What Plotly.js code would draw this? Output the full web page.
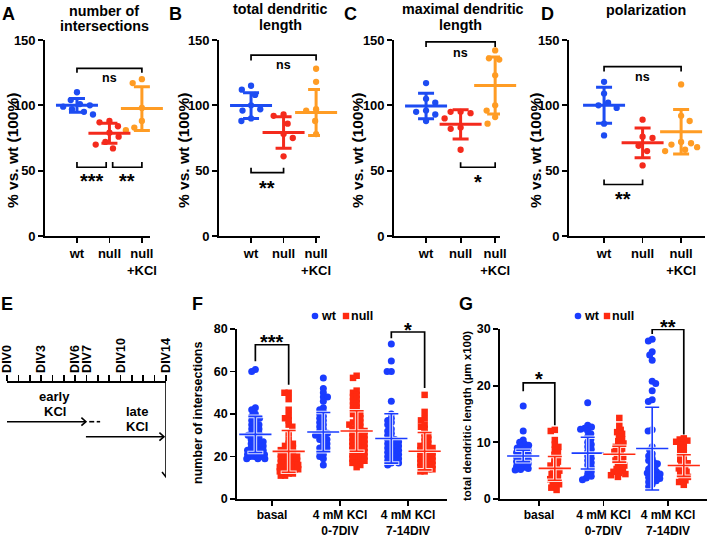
<!DOCTYPE html>
<html><head><meta charset="utf-8">
<script src="https://cdn.plot.ly/plotly-3.0.1.min.js"></script>
<style>html,body{margin:0;padding:0;background:#fff}</style>
</head><body><div id="chart" style="width:709px;height:538px"></div>
<script>
// ================= DATA =================
const topCategories = ['wt', 'null', 'null<br>+KCl'];
const bottomCategories = ['basal', '4 mM KCl<br>0-7DIV', '4 mM KCl<br>7-14DIV'];

// A: number of intersections (% vs. wt)
const intersWt   = [110, 104, 101, 100, 99, 97, 95, 93];
const intersNull = [88, 87, 84, 79, 76, 72, 70, 67];
const intersKcl  = [120, 117, 98, 88, 84, 83, 81];
const intersMean = [100, 78.6, 97.5];
const intersSd   = [5.3, 7.6, 16.8];

// B: total dendritic length (% vs. wt)
const lengthWt   = [115, 112, 108, 100, 97, 96, 90, 88];
const lengthNull = [93, 92, 86, 78, 75, 61];
const lengthKcl  = [128, 118, 97, 96, 92, 88, 84, 78, 71];
const lengthMean = [99.8, 79.2, 94.6];
const lengthSd   = [9.8, 12, 17.6];

// C: maximal dendritic length (% vs. wt)
const maxWt   = [117, 105, 102, 96, 95, 93, 88];
const maxNull = [95, 95, 94, 90, 83, 82, 66];
const maxKcl  = [142, 136, 135, 123, 100, 96, 91, 86];
const maxMean = [99.5, 85.5, 115.2];
const maxSd   = [9.7, 11.2, 21.8];

// D: polarization (% vs. wt)
const polWt   = [118, 109, 102, 100, 98, 86, 77];
const polNull = [89, 76, 75, 69, 65, 54];
const polKcl  = [116, 92, 88, 72, 71, 70, 68, 66, 65];
const polMean = [100, 71.3, 79.8];
const polSd   = [13.8, 11.4, 17];

// E: timeline
const divDays   = [0, 3, 6, 7, 10, 14];
const divLabels = ['DIV0', 'DIV3', 'DIV6', 'DIV7', 'DIV10', 'DIV14'];

// F: number of intersections
const fBasalWt   = [61, 60, 43, 42, 40, 39, 38, 38, 37, 36, 35, 35, 34, 33, 33, 32, 31, 31, 30, 30, 29, 28, 28, 27, 27, 26, 26, 25, 25, 24, 24, 23, 23, 23, 22, 22, 22, 21, 21, 21, 20, 20, 20, 19, 19, 19];
const fBasalNull = [50, 50, 47, 42, 39, 38, 37, 35, 34, 31, 28, 26, 26, 25, 24, 24, 23, 23, 22, 22, 21, 21, 20, 20, 20, 19, 19, 18, 18, 18, 17, 17, 17, 16, 16, 16, 15, 15, 15, 14, 14, 14, 13, 13, 12, 12, 11, 11];
const f07Wt      = [57, 52, 50, 48, 48, 46, 43, 42, 41, 40, 39, 38, 37, 36, 35, 34, 33, 32, 31, 31, 30, 30, 29, 28, 28, 27, 26, 25, 24, 24, 23, 22, 21, 20, 19, 16];
const f07Null    = [58, 57, 51, 50, 49, 48, 47, 46, 45, 44, 43, 42, 41, 40, 40, 39, 38, 37, 36, 36, 35, 35, 34, 33, 33, 32, 32, 31, 31, 30, 30, 29, 29, 28, 28, 27, 27, 26, 26, 25, 25, 24, 24, 23, 23, 22, 22, 21, 21, 20, 20, 19, 19, 18, 18, 17, 17, 16, 15];
const f714Wt     = [73, 65, 60, 60, 46, 40, 38, 37, 36, 35, 33, 32, 31, 30, 29, 28, 28, 27, 27, 26, 26, 25, 25, 24, 24, 23, 23, 22, 22, 21, 21, 20, 20, 19, 19, 18, 18, 17, 17, 16];
const f714Null   = [49, 41, 38, 37, 35, 34, 33, 31, 30, 29, 28, 27, 26, 25, 25, 24, 24, 23, 23, 22, 22, 21, 21, 20, 20, 19, 19, 18, 18, 17, 17, 16, 16, 15, 15, 14, 14, 13, 13];
const fMeanWt   = [30.4, 31.5, 28.5];
const fSdWt     = [8.5, 9.2, 11.6];
const fMeanNull = [22.4, 32, 22.5];
const fSdNull   = [9.8, 9.5, 8.8];

// G: total dendritic length (µm x100)
const gBasalWt   = [16.4, 12.0, 10.4, 10.0, 9.7, 9.5, 9.3, 9.0, 8.8, 8.6, 8.4, 8.2, 8.0, 7.8, 7.6, 7.4, 7.2, 7.0, 6.8, 6.6, 6.4, 6.2, 6.0, 5.8, 5.6, 5.4, 5.2, 5.1];
const gBasalNull = [12.2, 12.0, 10.4, 9.6, 9.2, 8.7, 8.2, 7.8, 7.4, 7.0, 6.6, 6.2, 5.9, 5.6, 5.3, 5.0, 4.7, 4.4, 4.1, 3.8, 3.5, 3.2, 2.9, 2.6, 2.3, 2.0, 1.6];
const g07Wt      = [17.0, 13.0, 12.7, 12.5, 12.3, 12.0, 11.5, 11.0, 10.5, 10.0, 9.6, 9.2, 8.8, 8.4, 8.0, 7.6, 7.2, 6.8, 6.4, 6.0, 5.6, 5.2, 4.8, 4.4, 4.0, 3.7, 3.4];
const g07Null    = [14.3, 12.9, 12.2, 11.8, 11.5, 11.0, 10.5, 10.2, 9.8, 9.5, 9.2, 8.9, 8.6, 8.3, 8.0, 7.7, 7.4, 7.1, 6.8, 6.5, 6.2, 5.9, 5.6, 5.3, 5.0, 4.8, 4.6, 4.4, 4.2, 3.9];
const g714Wt     = [28.2, 27.9, 26.0, 25.4, 24.5, 20.8, 20.4, 19.1, 17.5, 17.2, 12.2, 12.0, 9.2, 8.6, 8.0, 7.6, 7.2, 6.8, 6.5, 6.2, 5.9, 5.6, 5.3, 5.0, 4.8, 4.6, 4.4, 4.2, 4.0, 3.8, 3.6, 3.4, 3.2, 3.0, 2.6, 2.2];
const g714Null   = [10.7, 10.5, 10.3, 10.1, 9.9, 9.5, 9.0, 8.6, 8.2, 7.8, 7.4, 7.0, 6.6, 6.3, 6.0, 5.7, 5.4, 5.1, 4.8, 4.5, 4.2, 3.9, 3.6, 3.3, 3.0, 2.5];
const gMeanWt   = [7.6, 8.1, 8.9];
const gSdWt     = [1.0, 2.8, 7.3];
const gMeanNull = [5.4, 7.9, 5.9];
const gSdNull   = [2.1, 1.4, 1.9];

// ================= LAYOUT HELPERS =================
const W = 709, H = 538;
const fx = p => p / W;
const fy = p => 1 - p / H;
const FONT = 'Liberation Sans, Arial, Helvetica, sans-serif';
const BLUE = '#1d4cf2', RED = '#f42a1c', ORANGE = '#ff9c24';
const BBLUE = '#1a3cff', BRED = '#ff2a10';

const boxes = {
  1: {x0: 45,  x1: 150, y0: 40,  y1: 236, xr: [0.015, 3.25],  yr: [0, 150]},
  2: {x0: 219, x1: 320, y0: 40,  y1: 236, xr: [0.015, 3.12],  yr: [0, 150]},
  3: {x0: 394, x1: 500, y0: 40,  y1: 236, xr: [0.072, 3.14],  yr: [0, 150]},
  4: {x0: 569, x1: 705, y0: 40,  y1: 236, xr: [0.09, 3.62],   yr: [0, 150]},
  6: {x0: 237, x1: 447, y0: 329, y1: 499, xr: [0.485, 3.574], yr: [0, 80]},
  7: {x0: 500, x1: 707, y0: 329, y1: 499, xr: [0.395, 3.605], yr: [0, 30]}
};
const xid = n => n === 1 ? 'x' : 'x' + n;
const yid = n => n === 1 ? 'y' : 'y' + n;
const yScale = n => (boxes[n].y1 - boxes[n].y0) / (boxes[n].yr[1] - boxes[n].yr[0]);

const layout = {
  width: W, height: H, margin: {l: 0, r: 0, t: 0, b: 0},
  paper_bgcolor: '#fff', plot_bgcolor: 'rgba(0,0,0,0)',
  showlegend: false, shapes: [], annotations: [], font: {family: FONT, color: '#000'}
};

function axisBase(fs) {
  return {
    showline: true, linecolor: '#000', linewidth: 1.8,
    ticks: 'outside', ticklen: 5, tickwidth: 1.8, tickcolor: '#000',
    showgrid: false, zeroline: false, fixedrange: true, ticklabeloverflow: 'allow',
    tickfont: {family: FONT, size: fs, color: '#000', weight: 'bold'}
  };
}
function addAxes(n, xopts, yopts, fs) {
  const b = boxes[n];
  layout[n === 1 ? 'xaxis' : 'xaxis' + n] = Object.assign(axisBase(fs),
    {domain: [fx(b.x0), fx(b.x1)], range: b.xr, anchor: yid(n)}, xopts);
  layout[n === 1 ? 'yaxis' : 'yaxis' + n] = Object.assign(axisBase(fs),
    {domain: [fy(b.y1), fy(b.y0)], range: b.yr, anchor: xid(n)}, yopts);
}

// deterministic beeswarm (pixel space) -> x offsets in data units
function swarmOffsets(vals, n, diam, maxHalf) {
  const b = boxes[n];
  const ys = yScale(n);
  const xs = (b.x1 - b.x0) / (b.xr[1] - b.xr[0]);
  const order = vals.map((v, i) => i).sort((a, c) => vals[c] - vals[a]);
  const placed = [];
  const out = new Array(vals.length);
  order.forEach((i, k) => {
    const y = vals[i] * ys;
    const cands = [0];
    placed.forEach(p => {
      const dy = Math.abs(p.y - y);
      if (dy < diam) {
        const dx = Math.sqrt(diam * diam - dy * dy);
        cands.push(p.x + dx + 0.01, p.x - dx - 0.01);
      }
    });
    const pref = k % 2 === 0 ? 1 : -1;
    cands.sort((a, c) => (Math.abs(a) - Math.abs(c)) || (c * pref - a * pref));
    let best = null;
    for (const c of cands) {
      if (Math.abs(c) > maxHalf) continue;
      if (placed.every(p => (p.x - c) ** 2 + (p.y - y) ** 2 >= diam * diam - 0.05)) { best = c; break; }
    }
    if (best === null) {
      let bd = -1;
      for (let c = -maxHalf; c <= maxHalf; c += 0.5) {
        const md = Math.min(...placed.map(p => Math.hypot(p.x - c, p.y - y)));
        if (md > bd) { bd = md; best = c; }
      }
    }
    placed.push({x: best, y});
    out[i] = best / xs;
  });
  return out;
}

const dotTraces = [];
const barTraces = [];
function dots(vals, center, n, color, symbol, size, diam, maxHalf) {
  const off = swarmOffsets(vals, n, diam, maxHalf);
  dotTraces.push({
    type: 'scatter', mode: 'markers', x: vals.map((v, i) => center + off[i]), y: vals,
    xaxis: xid(n), yaxis: yid(n), cliponaxis: false, hoverinfo: 'skip',
    marker: {color, symbol, size, line: {width: 0}}
  });
}
function meanSd(mean, sd, center, n, color, meanW, capW, thick) {
  barTraces.push({
    type: 'scatter', mode: 'markers', x: [center], y: [mean],
    xaxis: xid(n), yaxis: yid(n), cliponaxis: false, hoverinfo: 'skip',
    marker: {symbol: 'line-ew', size: meanW, color, line: {color, width: thick}},
    error_y: {type: 'data', array: [sd], visible: true, color, thickness: thick, width: capW / 2}
  });
}
function bracket(n, x0, x1, y, leg0, leg1, label, labelY, fs, star) {
  layout.shapes.push({type: 'path', xref: xid(n), yref: yid(n),
    path: `M${x0},${leg0}L${x0},${y}L${x1},${y}L${x1},${leg1}`,
    line: {color: '#000', width: 1.7}});
  layout.annotations.push({xref: xid(n), yref: yid(n), x: (x0 + x1) / 2, y: y,
    text: `<b>${label}</b>`, showarrow: false, xanchor: 'center', yanchor: 'middle',
    yshift: (labelY - y) * yScale(n) + (star ? -fs * 0.2 : 0),
    font: {family: FONT, size: fs, color: '#000'}});
}
function txt(text, xpx, ypx, size, opts) {
  layout.annotations.push(Object.assign({xref: 'paper', yref: 'paper', x: fx(xpx), y: fy(ypx),
    text, showarrow: false, xanchor: 'center', yanchor: 'middle',
    font: {family: FONT, size, color: '#000'}}, opts || {}));
}

// ================= TOP PANELS A-D =================
const topPanels = [
  {n: 1, sets: [intersWt, intersNull, intersKcl], mean: intersMean, sd: intersSd},
  {n: 2, sets: [lengthWt, lengthNull, lengthKcl], mean: lengthMean, sd: lengthSd},
  {n: 3, sets: [maxWt, maxNull, maxKcl], mean: maxMean, sd: maxSd},
  {n: 4, sets: [polWt, polNull, polKcl], mean: polMean, sd: polSd}
];
const topColors = [BLUE, RED, ORANGE];
topPanels.forEach(p => {
  addAxes(p.n, {tickvals: [1, 2, 3], ticktext: topCategories},
    {tickvals: [0, 50, 100, 150]}, 13);
  p.sets.forEach((s, g) => {
    dots(s, g + 1, p.n, topColors[g], 'circle', 6.3, 10, 16);
    meanSd(p.mean[g], p.sd[g], g + 1, p.n, topColors[g], 30, 16, 3);
  });
});

// significance, top
bracket(1, 1, 3, 128.3, 125, 125, 'ns', 120.7, 12.5, false);
bracket(1, 1, 1.9, 52.6, 56.6, 56.6, '***', 45.4, 20, true);
bracket(1, 2.1, 3, 52.6, 56.6, 56.6, '**', 45.4, 20, true);
bracket(2, 1, 3, 138.5, 134.4, 134.4, 'ns', 130.9, 12.5, false);
bracket(2, 1, 2, 48.5, 52.3, 52.3, '**', 39.8, 20, true);
bracket(3, 1, 3, 148.5, 144.6, 144.6, 'ns', 139.8, 12.5, false);
bracket(3, 2, 3, 52.6, 56.4, 56.4, '*', 44.1, 20, true);
bracket(4, 1, 3, 129.6, 125.8, 125.8, 'ns', 121.4, 12.5, false);
bracket(4, 1, 2, 39.4, 43.2, 43.2, '**', 31.2, 20, true);

// top titles / letters / y-titles
txt('<b>A</b>', 8, 14, 18);
txt('<b>B</b>', 175, 14, 18);
txt('<b>C</b>', 350, 14, 18);
txt('<b>D</b>', 547, 14, 18);
txt('<b>number of</b>', 104, 11, 14.3);
txt('<b>intersections</b>', 104, 26, 14.3);
txt('<b>total dendritic</b>', 280, 9, 14.3);
txt('<b>length</b>', 280, 25, 14.3);
txt('<b>maximal dendritic</b>', 463, 9, 14.3);
txt('<b>length</b>', 460, 25, 14.3);
txt('<b>polarization</b>', 646, 10, 14.3);
[12, 183, 357, 535].forEach(x => txt('<b>% vs. wt (100%)</b>', x, 151, 15.5, {textangle: -90}));

// ================= PANEL E =================
const eTicks = [];
for (let d = 0; d <= 14; d++) eTicks.push(d);
layout.xaxis5 = {
  domain: [fx(7), fx(166)], range: [0, 14], anchor: 'y5', side: 'top',
  showline: true, linecolor: '#000', linewidth: 1.6, showgrid: false, zeroline: false,
  ticks: 'outside', ticklen: 6, tickwidth: 1.6, tickcolor: '#000', tickangle: -90,
  ticklabeloverflow: 'allow',
  tickvals: eTicks, ticktext: eTicks.map(d => { const k = divDays.indexOf(d); return k >= 0 ? divLabels[k] : ''; }),
  tickfont: {family: FONT, size: 12.5, color: '#000', weight: 'bold'}, fixedrange: true
};
layout.yaxis5 = {domain: [fy(515), fy(383)], range: [132, 0], anchor: 'x5', visible: false, fixedrange: true};
const eLine = {color: '#000', width: 1.6};
const eShape = (path) => layout.shapes.push({type: 'path', xref: 'x5', yref: 'y5', path, line: eLine});
eShape('M0,38.7L6.95,38.7');
eShape('M6.55,34.7L6.95,38.7L6.55,42.7');
eShape('M7.24,38.7L7.68,38.7');
eShape('M7.9,38.7L8.2,38.7');
eShape('M6.95,53.7L13.82,53.7');
eShape('M13.42,49.7L13.82,53.7L13.42,57.7');
eShape('M14,0L14,94');
eShape('M13.65,89L14,94L14.35,89');
const eTxt = (text, x, y, anchor) => layout.annotations.push({xref: 'x5', yref: 'y5', x, y,
  text: `<b>${text}</b>`, showarrow: false, xanchor: anchor || 'center', yanchor: 'middle',
  font: {family: FONT, size: 13, color: '#000'}});
eTxt('early', 4.15, 13.7);
eTxt('KCl', 4.2, 28.7);
eTxt('late', 11.45, 28);
eTxt('KCl', 11.45, 43.7);
eTxt('morphological', 14.07, 105, 'right');
eTxt('assessments', 14.07, 120.5, 'right');
txt('<b>E</b>', 7, 304, 18);

// ================= PANELS F, G =================
const bottomX = {tickvals: [1, 2, 3], ticktext: bottomCategories, ticklabelstandoff: -1};
addAxes(6, bottomX, {tickvals: [0, 20, 40, 60, 80]}, 12);
addAxes(7, Object.assign({}, bottomX), {tickvals: [0, 10, 20, 30]}, 12);
layout.yaxis6.tickfont.size = 12.5;
layout.yaxis7.tickfont.size = 12.5;
const OFFW = -0.245, OFFN = 0.245;
const fWtSets = [fBasalWt, f07Wt, f714Wt], fNullSets = [fBasalNull, f07Null, f714Null];
const gWtSets = [gBasalWt, g07Wt, g714Wt], gNullSets = [gBasalNull, g07Null, g714Null];
[[6, fWtSets, fNullSets, fMeanWt, fSdWt, fMeanNull, fSdNull],
 [7, gWtSets, gNullSets, gMeanWt, gSdWt, gMeanNull, gSdNull]].forEach(([n, ws, ns, mw, sw, mn, sn]) => {
  for (let g = 0; g < 3; g++) {
    dots(ws[g], g + 1 + OFFW, n, BBLUE, 'circle', 7, 4.2, 9.5);
    dots(ns[g], g + 1 + OFFN, n, BRED, 'square', 6.5, 4.2, 9.5);
    meanSd(mw[g], sw[g], g + 1 + OFFW, n, 'rgba(255,255,255,0.85)', 25, 16, 3.6);
    meanSd(mw[g], sw[g], g + 1 + OFFW, n, BBLUE, 23, 14, 1.6);
    meanSd(mn[g], sn[g], g + 1 + OFFN, n, 'rgba(255,255,255,0.85)', 25, 16, 3.6);
    meanSd(mn[g], sn[g], g + 1 + OFFN, n, BRED, 23, 14, 1.6);
  }
});
bracket(6, 1 + OFFW, 1 + OFFN, 72.6, 64.8, 53.8, '***', 75.8, 20, true);
bracket(6, 3 + OFFW, 3 + OFFN, 78.6, 75.6, 52.2, '*', 81.6, 20, true);
bracket(7, 1 + OFFW, 1 + OFFN, 20.5, 19.0, 13.0, '*', 21.8, 20, true);
bracket(7, 3 + OFFW, 3 + OFFN, 29.95, 29.1, 11.4, '**', 31.1, 20, true);

txt('<b>F</b>', 197, 304, 18);
txt('<b>G</b>', 466, 304, 18);
txt('<b>number of intersections</b>', 198, 413, 12.5, {textangle: -90});
txt('<b>total dendritic length (µm x100)</b>', 467, 416, 11.5, {textangle: -90});

// legends (F, G)
function legendAt(xc, xwt, xsq, xnull) {
  layout.shapes.push({type: 'circle', xref: 'paper', yref: 'paper',
    x0: fx(xc - 3.3), x1: fx(xc + 3.3), y0: fy(316 + 3.3), y1: fy(316 - 3.3),
    fillcolor: BBLUE, line: {width: 0}});
  layout.shapes.push({type: 'rect', xref: 'paper', yref: 'paper',
    x0: fx(xsq - 3.2), x1: fx(xsq + 3.2), y0: fy(316 + 3.2), y1: fy(316 - 3.2),
    fillcolor: BRED, line: {width: 0}});
  txt('<b>wt</b>', xwt, 316, 12.5, {xanchor: 'left'});
  txt('<b>null</b>', xnull, 316, 12.5, {xanchor: 'left'});
}
legendAt(315, 319, 346, 349);
legendAt(578, 582, 607, 610);

Plotly.newPlot('chart', dotTraces.concat(barTraces), layout, {displayModeBar: false, staticPlot: true});
</script>
</body></html>
